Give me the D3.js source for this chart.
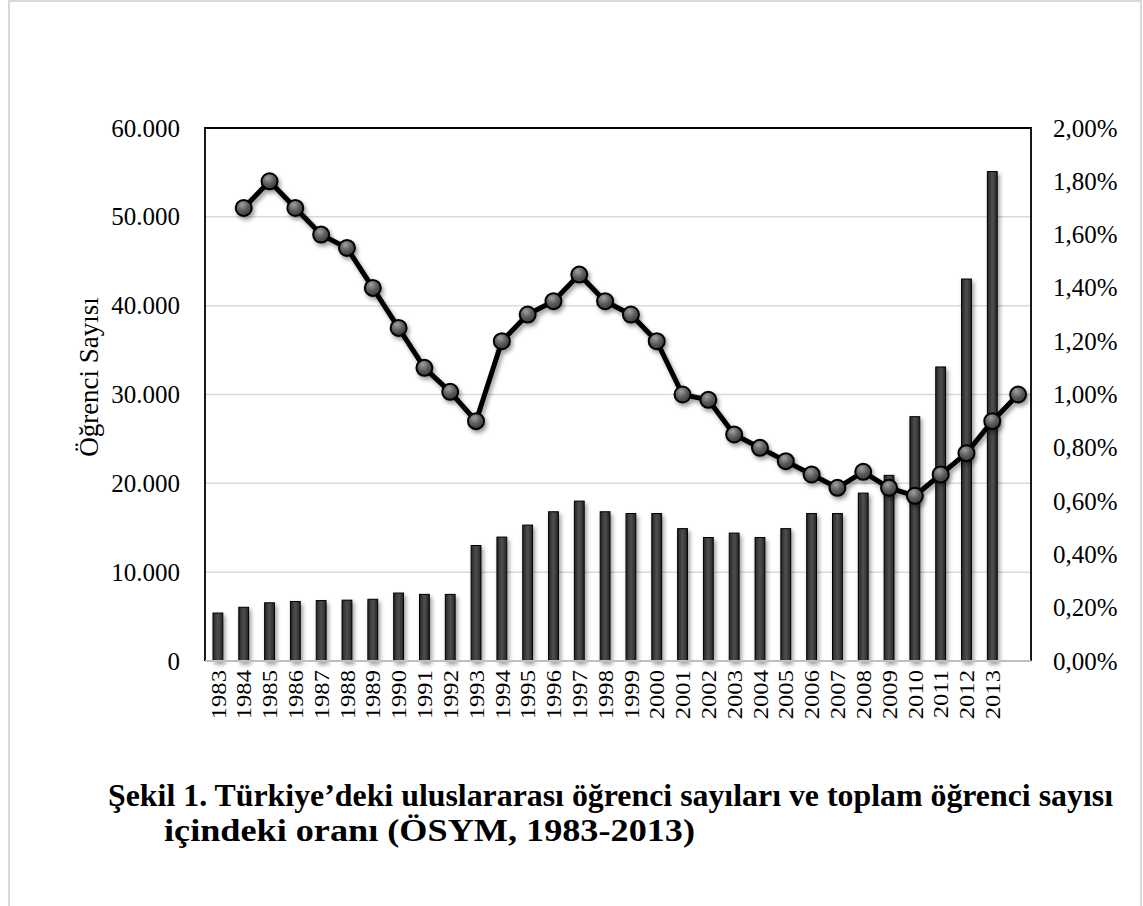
<!DOCTYPE html>
<html>
<head>
<meta charset="utf-8">
<script src="https://cdn.jsdelivr.net/npm/d3@7"></script>
<style>
  body { margin: 0; background: #fff; }
  svg text { font-family: "Liberation Serif", "Times New Roman", serif; fill: #000; }
</style>
</head>
<body>
<svg id="chart" width="1143" height="906"></svg>
<script>
const years = [
  "1983", "1984", "1985", "1986", "1987", "1988", "1989", "1990", "1991", "1992",
  "1993", "1994", "1995", "1996", "1997", "1998", "1999", "2000", "2001", "2002",
  "2003", "2004", "2005", "2006", "2007", "2008", "2009", "2010", "2011", "2012", "2013"
];
// Excel added an unlabeled slot after 2013, the ratio line is drawn one slot to the right
const categories = years.concat([""]);

const students = [
  5400, 6050, 6550, 6700, 6800, 6850, 6950, 7650, 7500, 7500,
  13000, 13950, 15300, 16800, 18000, 16800, 16600, 16600, 14900, 13900,
  14400, 13900, 14900, 16600, 16600, 18900, 20900, 27500, 33100, 43000, 55100
];

const ratio = [
  null, 1.70, 1.80, 1.70, 1.60, 1.55, 1.40, 1.25, 1.10, 1.01, 0.90,
  1.20, 1.30, 1.35, 1.45, 1.35, 1.30, 1.20, 1.00, 0.98, 0.85,
  0.80, 0.75, 0.70, 0.65, 0.71, 0.65, 0.62, 0.70, 0.78, 0.90, 1.00
];

const leftTicks = [0, 10000, 20000, 30000, 40000, 50000, 60000];
const rightTicks = [0, 0.2, 0.4, 0.6, 0.8, 1.0, 1.2, 1.4, 1.6, 1.8, 2.0];

const titleLines = [
  "Şekil 1. Türkiye’deki uluslararası öğrenci sayıları ve toplam öğrenci sayısı",
  "içindeki oranı (ÖSYM, 1983-2013)"
];

const PLOT = { left: 205, right: 1031, top: 128, bottom: 661 };

const svg = d3.select("#chart");
const defs = svg.append("defs");

const barGrad = defs.append("linearGradient").attr("id", "barGrad")
  .attr("x1", "0%").attr("x2", "100%").attr("y1", "0%").attr("y2", "0%");
barGrad.append("stop").attr("offset", "0%").attr("stop-color", "#262626");
barGrad.append("stop").attr("offset", "50%").attr("stop-color", "#4f4f4f");
barGrad.append("stop").attr("offset", "100%").attr("stop-color", "#262626");

const dotGrad = defs.append("radialGradient").attr("id", "dotGrad")
  .attr("cx", "40%").attr("cy", "30%").attr("r", "70%");
dotGrad.append("stop").attr("offset", "0%").attr("stop-color", "#a0a0a0");
dotGrad.append("stop").attr("offset", "55%").attr("stop-color", "#5c5c5c");
dotGrad.append("stop").attr("offset", "100%").attr("stop-color", "#3a3a3a");

const shadow = defs.append("filter").attr("id", "shadow")
  .attr("x", "-20%").attr("y", "-20%").attr("width", "150%").attr("height", "150%");
shadow.append("feDropShadow")
  .attr("dx", 2).attr("dy", 3).attr("stdDeviation", 2)
  .attr("flood-color", "#000").attr("flood-opacity", 0.4);

// outer frame of the figure
svg.append("rect")
  .attr("x", 9).attr("y", 1).attr("width", 1132).attr("height", 912)
  .attr("fill", "none").attr("stroke", "#d9d9d9").attr("stroke-width", 2);

const x = d3.scaleBand()
  .domain(categories)
  .range([PLOT.left, PLOT.right])
  .paddingInner(0.62)
  .paddingOuter(0.31);

const yLeft = d3.scaleLinear().domain([0, 60000]).range([PLOT.bottom, PLOT.top]);
const yRight = d3.scaleLinear().domain([0, 2]).range([PLOT.bottom, PLOT.top]);

const fmtCount = (d) => d3.format(",")(d).replace(/,/g, ".");
const fmtPct = (d) => d.toFixed(2).replace(".", ",") + "%";

// gridlines
svg.append("g")
  .selectAll("line")
  .data(leftTicks.filter((d) => d > 0 && d < 60000))
  .join("line")
  .attr("x1", PLOT.left).attr("x2", PLOT.right)
  .attr("y1", (d) => yLeft(d)).attr("y2", (d) => yLeft(d))
  .attr("stroke", "#dadada").attr("stroke-width", 1.5);

// bars
svg.append("g")
  .attr("filter", "url(#shadow)")
  .selectAll("rect")
  .data(students)
  .join("rect")
  .attr("x", (d, i) => x(years[i]))
  .attr("width", x.bandwidth())
  .attr("y", (d) => yLeft(d))
  .attr("height", (d) => yLeft(0) - yLeft(d))
  .attr("fill", "url(#barGrad)")
  .attr("stroke", "#000")
  .attr("stroke-width", 1);

// plot frame: black top / left / right, grey category axis
svg.append("path")
  .attr("d", `M${PLOT.left},${PLOT.bottom}V${PLOT.top}H${PLOT.right}V${PLOT.bottom}`)
  .attr("fill", "none").attr("stroke", "#000").attr("stroke-width", 1.8);
svg.append("line")
  .attr("x1", PLOT.left).attr("x2", PLOT.right)
  .attr("y1", PLOT.bottom).attr("y2", PLOT.bottom)
  .attr("stroke", "#bfbfbf").attr("stroke-width", 2);

// ratio line
const cx = (i) => x(categories[i]) + x.bandwidth() / 2;
const linePts = ratio.map((v, i) => ({ v, i })).filter((d) => d.v != null);

const lineG = svg.append("g").attr("filter", "url(#shadow)");
lineG.append("path")
  .datum(linePts)
  .attr("d", d3.line().x((d) => cx(d.i)).y((d) => yRight(d.v)))
  .attr("fill", "none")
  .attr("stroke", "#000")
  .attr("stroke-width", 5)
  .attr("stroke-linejoin", "round");
lineG.selectAll("circle")
  .data(linePts)
  .join("circle")
  .attr("cx", (d) => cx(d.i))
  .attr("cy", (d) => yRight(d.v))
  .attr("r", 8)
  .attr("fill", "url(#dotGrad)")
  .attr("stroke", "#000")
  .attr("stroke-width", 2);

// axes
const leftAxis = svg.append("g")
  .attr("transform", `translate(${PLOT.left},0)`)
  .call(d3.axisLeft(yLeft).tickValues(leftTicks).tickFormat(fmtCount).tickSize(0).tickPadding(25));
const rightAxis = svg.append("g")
  .attr("transform", `translate(${PLOT.right},0)`)
  .call(d3.axisRight(yRight).tickValues(rightTicks).tickFormat(fmtPct).tickSize(0).tickPadding(22));
[leftAxis, rightAxis].forEach((g) => {
  g.select(".domain").remove();
  g.selectAll("text").style("font-size", "25px");
});

// category labels, rotated (the source face runs a little wider than Liberation)
svg.append("g")
  .selectAll("text")
  .data(categories.filter((c) => c !== ""))
  .join("text")
  .attr("transform", (d) => `translate(${x(d) + x.bandwidth() / 2},670) rotate(-90) scale(1.12,1)`)
  .attr("text-anchor", "end")
  .attr("dy", "0.35em")
  .style("font-size", "22px")
  .text((d) => d);

// y title
svg.append("text")
  .attr("transform", "translate(98,377) rotate(-90)")
  .attr("text-anchor", "middle")
  .style("font-size", "27px")
  .text("Öğrenci Sayısı");

// caption, stretched to the widths of the justified source lines
const captionWidths = [1005, 531];
svg.append("g")
  .selectAll("text")
  .data(titleLines)
  .join("text")
  .attr("x", (d, i) => (i === 0 ? 108 : 164))
  .attr("y", (d, i) => 806 + i * 35)
  .attr("textLength", (d, i) => captionWidths[i])
  .attr("lengthAdjust", "spacingAndGlyphs")
  .style("font-size", "31px")
  .style("font-weight", "bold")
  .text((d) => d);
</script>
</body>
</html>
